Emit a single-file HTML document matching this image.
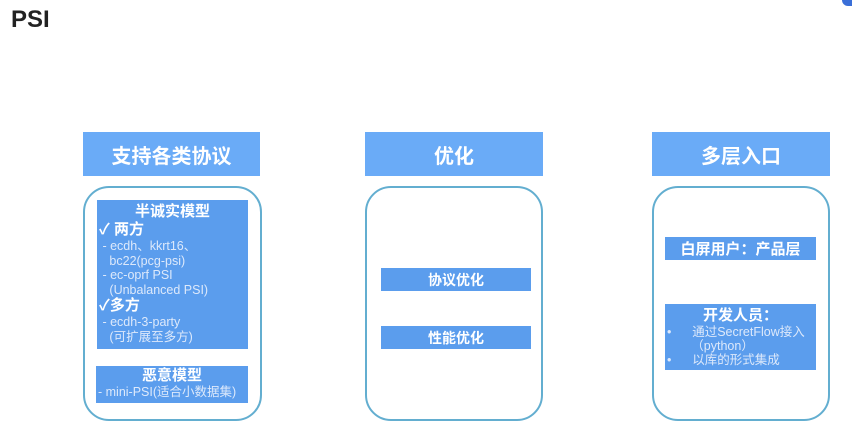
<!DOCTYPE html><html><head><meta charset="utf-8"><style>
body{margin:0;width:852px;height:432px;background:#fff;position:relative;overflow:hidden;font-family:"Liberation Sans","Noto Sans CJK SC",sans-serif}
.a{position:absolute;box-sizing:border-box}
.h{background:#6aabf7;color:#fff;font-weight:bold;font-size:20px;display:flex;align-items:center;justify-content:center}
.o{border:2px solid #63aed0;border-radius:26px}
.b{background:#5b9ded;color:#fff}
.c{display:flex;align-items:center;justify-content:center;font-size:14px;font-weight:bold}
</style></head><body>
<div class="a" style="left:11px;top:6px;font-size:24px;font-weight:bold;color:#222">PSI</div>
<div class="a" style="left:842px;top:0;width:10px;height:6px;background:#3a6fd8;border-radius:0 0 0 6px"></div>
<div class="a h" style="left:83px;top:132px;width:177px;height:44px">支持各类协议</div>
<div class="a h" style="left:365px;top:132px;width:178px;height:44px">优化</div>
<div class="a h" style="left:652px;top:132px;width:178px;height:44px">多层入口</div>
<div class="a o" style="left:83px;top:186px;width:179px;height:235px"></div>
<div class="a o" style="left:365px;top:186px;width:178px;height:235px"></div>
<div class="a o" style="left:652px;top:186px;width:178px;height:235px"></div>
<div class="a b" style="left:97px;top:200px;width:151px;height:149px;font-size:12.5px;line-height:14.5px;padding:2px 2px">
<div style="text-align:center;font-weight:bold;font-size:15px;line-height:19px">半诚实模型</div>
<div style="font-weight:bold;font-size:15px;line-height:18px">✓ 两方</div>
<div style="color:#dde9fb">&nbsp;- ecdh、kkrt16、<br>&nbsp;&nbsp;&nbsp;bc22(pcg-psi)<br>&nbsp;- ec-oprf PSI<br>&nbsp;&nbsp;&nbsp;(Unbalanced PSI)</div>
<div style="font-weight:bold;font-size:15px;line-height:18px">✓多方</div>
<div style="color:#dde9fb">&nbsp;- ecdh-3-party<br>&nbsp;&nbsp;&nbsp;(可扩展至多方)</div></div>
<div class="a b" style="left:96px;top:366px;width:152px;height:37px;font-size:12.5px;padding:1px 2px">
<div style="text-align:center;font-weight:bold;font-size:15px;line-height:18px">恶意模型</div>
<div style="color:#dde9fb;line-height:15px">- mini-PSI(适合小数据集)</div></div>
<div class="a b c" style="left:381px;top:268px;width:150px;height:23px">协议优化</div>
<div class="a b c" style="left:381px;top:326px;width:150px;height:23px">性能优化</div>
<div class="a b c" style="left:665px;top:237px;width:151px;height:23px;font-size:15px">白屏用户：产品层</div>
<div class="a b" style="left:665px;top:304px;width:151px;height:66px;font-size:12.5px;line-height:14px;padding:2px 2px">
<div style="text-align:center;font-weight:bold;font-size:15px;line-height:19px">开发人员：</div>
<div style="color:#dde9fb">•&nbsp;&nbsp;&nbsp;&nbsp;&nbsp;&nbsp;通过SecretFlow接入<br>&nbsp;&nbsp;&nbsp;&nbsp;&nbsp;&nbsp;&nbsp;（python）<br>•&nbsp;&nbsp;&nbsp;&nbsp;&nbsp;&nbsp;以库的形式集成</div></div>
</body></html>
